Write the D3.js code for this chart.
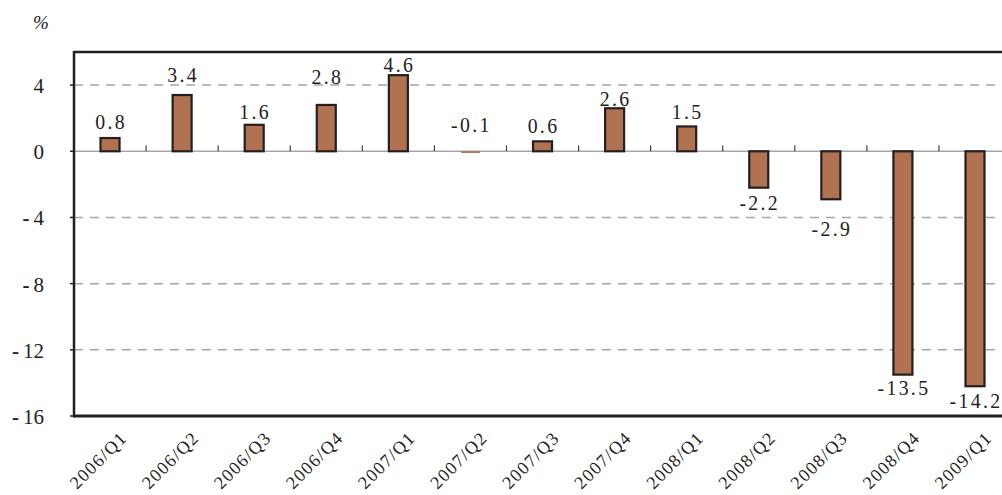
<!DOCTYPE html>
<html><head><meta charset="utf-8">
<script src="https://cdn.jsdelivr.net/npm/d3@7"></script>
<style>
body{margin:0;background:#fff}
text{font-family:"Liberation Serif","DejaVu Serif",serif;fill:#222}
</style></head>
<body><svg id="chart" width="1002" height="495"></svg>
<script>
// Quarterly growth rate (%)
const quarters = ["2006/Q1","2006/Q2","2006/Q3","2006/Q4","2007/Q1","2007/Q2","2007/Q3","2007/Q4","2008/Q1","2008/Q2","2008/Q3","2008/Q4","2009/Q1"];
const growth = [0.8, 3.4, 1.6, 2.8, 4.6, -0.1, 0.6, 2.6, 1.5, -2.2, -2.9, -13.5, -14.2];
const yTicks = [4, 0, -4, -8, -12, -16];
const yDomain = [-16, 6];
const unitLabel = "%";

const svg = d3.select("#chart");
const plotLeft = 74, plotTop = 52, plotBottom = 416, step = 72.08;

const x = d3.scaleBand().domain(quarters)
  .range([plotLeft, plotLeft + step * quarters.length]).paddingInner(0).paddingOuter(0);
const y = d3.scaleLinear().domain(yDomain).range([plotBottom, plotTop]);
const barW = 19;
const cx = q => x(q) + x.bandwidth() / 2;

// dashed gridlines
svg.append("g").selectAll("line").data(yTicks.filter(d => d !== 0 && d !== yDomain[0]))
  .join("line")
  .attr("x1", plotLeft).attr("x2", 1002)
  .attr("y1", d => y(d)).attr("y2", d => y(d))
  .attr("stroke", "#a6a6a6").attr("stroke-width", 1.5)
  .attr("stroke-dasharray", "9,7");

// zero line with category separators
svg.append("line").attr("x1", plotLeft).attr("x2", 1002)
  .attr("y1", y(0)).attr("y2", y(0))
  .attr("stroke", "#a6a6a6").attr("stroke-width", 1.5);
svg.append("g").selectAll("line").data(quarters.slice(1))
  .join("line")
  .attr("x1", d => x(d)).attr("x2", d => x(d))
  .attr("y1", y(0) - 6).attr("y2", y(0))
  .attr("stroke", "#444").attr("stroke-width", 1.2);

// frame: top, left, bottom
svg.append("line").attr("x1", plotLeft).attr("x2", 1002).attr("y1", plotTop).attr("y2", plotTop)
  .attr("stroke", "#231f20").attr("stroke-width", 2.5);
svg.append("line").attr("x1", plotLeft).attr("x2", 1002).attr("y1", plotBottom).attr("y2", plotBottom)
  .attr("stroke", "#231f20").attr("stroke-width", 3);
svg.append("line").attr("x1", plotLeft).attr("x2", plotLeft).attr("y1", plotTop - 1).attr("y2", plotBottom + 1.5)
  .attr("stroke", "#231f20").attr("stroke-width", 2.5);

// y axis ticks and labels
svg.append("g").selectAll("line").data(yTicks).join("line")
  .attr("x1", plotLeft - 4).attr("x2", plotLeft).attr("y1", d => y(d)).attr("y2", d => y(d))
  .attr("stroke", "#231f20").attr("stroke-width", 1.5);
const yl = svg.append("g").selectAll("text").data(yTicks).join("text")
  .attr("x", 44).attr("y", d => y(d) + 8)
  .attr("text-anchor", "end").attr("font-size", 21);
yl.each(function(d){
  const t = d3.select(this);
  if (d < 0) {
    t.append("tspan").attr("font-weight", "bold").text("-");
    t.append("tspan").attr("dx", 4).text(String(-d));
  } else t.text(String(d));
});
svg.append("text").attr("x", 41).attr("y", 29).attr("text-anchor", "middle")
  .attr("font-size", 19).attr("font-style", "italic").text(unitLabel);

// bars (very small bars are drawn without an outline)
svg.append("g").selectAll("rect").data(growth).join("rect")
  .attr("x", (d, i) => cx(quarters[i]) - barW / 2)
  .attr("width", barW)
  .attr("y", d => y(Math.max(0, d)))
  .attr("height", d => Math.abs(y(d) - y(0)))
  .attr("fill", "#b07250")
  .attr("stroke", d => Math.abs(y(d) - y(0)) > 3 ? "#231f20" : "none")
  .attr("stroke-width", 2.2);

// value labels, each nudged away from its bar end by a hand-set gap (px)
const labelGap = [9, 13, 6, 21, 3, 19, 8, 2, 7, 22, 37, 20, 22];
svg.append("g").selectAll("text").data(growth).join("text")
  .attr("text-anchor", "middle")
  .attr("font-size", 22).attr("letter-spacing", 2.6)
  .attr("transform", (d, i) => {
    const px = cx(quarters[i]) + 1;
    const above = d >= -0.5;
    const ty = above ? y(Math.max(0, d)) - labelGap[i] : y(d) + labelGap[i];
    return `translate(${px},${ty}) scale(0.9,1)`;
  })
  .text(d => d.toFixed(1));

// category labels
svg.append("g").selectAll("text").data(quarters).join("text")
  .attr("text-anchor", "end").attr("font-size", 18).attr("letter-spacing", 1.3)
  .attr("transform", d => `translate(${cx(d) + 18},${439}) rotate(-45)`)
  .text(d => d);
</script></body></html>
